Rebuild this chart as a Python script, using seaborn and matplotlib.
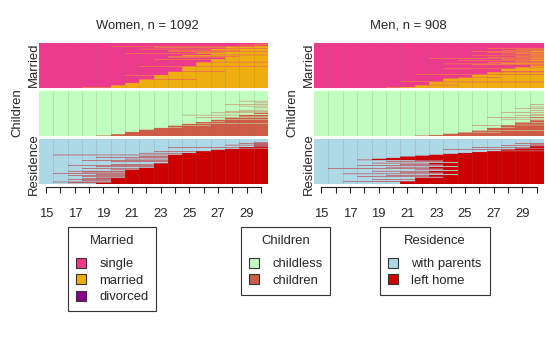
import numpy as np
import matplotlib
matplotlib.use("Agg")
import matplotlib.pyplot as plt
from matplotlib.colors import LinearSegmentedColormap
from matplotlib.patches import Patch
import seaborn as sns

sns.set_style("white")
plt.rcParams["font.family"] = ["Liberation Sans", "DejaVu Sans"]

ages = [15, 16, 17, 18, 19, 20, 21, 22, 23, 24, 25, 26, 27, 28, 29, 30]
age_labels = ["15", "", "17", "", "19", "", "21", "", "23", "", "25", "", "27", "", "29", ""]

channels = ["Married", "Children", "Residence"]
mar_states = ["single", "married", "divorced"]
mar_colors = ["#EE3A8C", "#EEAD0E", "#8B008B"]
chi_states = ["childless", "children"]
chi_colors = ["#C1FFC1", "#CD5B45"]
res_states = ["with parents", "left home"]
res_colors = ["#ADD8E6", "#CD0000"]

women_n = 1092
men_n = 908

# blocks of sequences from bottom to top: share of sample (%) and age at the event (31 = not before 31)
women_mar_pct = [1, 5, 5, 8, 1, 8, 1, 7, 1, 10,
                 1, 1, 8, 1, 5, 1, 4, 2,
                 1, 2, 1, 2, 1, 2, 1, 1, 2, 1, 2, 1, 1, 2, 1, 1, 1,
                 2, 1, 1, 1, 2]
women_mar_age = [18, 20, 21, 22, 26, 23, 21, 24, 28, 25,
                 22, 31, 26, 31, 27, 23, 28, 24,
                 29, 25, 31, 27, 21, 26, 28, 31, 24, 29, 27, 22, 31, 28, 23, 30, 20,
                 31, 29, 31, 30, 31]

women_chi_pct = [1, 3, 5, 5, 4, 1, 4, 1, 3, 1, 3, 1, 4,
                 1, 3, 1, 2, 3, 1, 2, 2, 1, 2, 1, 2, 1, 2,
                 2, 1, 3, 1, 3, 1, 2, 1, 3, 1, 2,
                 20]
women_chi_age = [19, 20, 21, 22, 23, 25, 24, 27, 25, 31, 26, 28, 27,
                 31, 28, 26, 31, 29, 25, 31, 30, 27, 31, 28, 31, 29, 31,
                 31, 30, 31, 29, 31, 28, 31, 30, 31, 29, 31,
                 31]

women_res_pct = [2, 1, 1, 1, 2, 1, 1, 1, 2, 1, 1,
                 2, 1, 1, 1, 2, 1, 1, 1, 2, 1, 1, 1, 2, 1,
                 2, 1, 1,
                 2, 1, 2, 1, 1, 1, 2,
                 3, 1, 2, 1, 2, 1, 2, 1, 2, 1, 2, 1,
                 3, 1, 3, 1, 3,
                 2, 1, 2, 1, 1, 2, 1, 1, 1, 1,
                 1, 1, 1, 8]
women_res_age = [19, 17, 20, 16, 20, 18, 20, 17, 20, 18, 19,
                 21, 18, 21, 17, 21, 19, 21, 16, 21, 18, 21, 17, 21, 20,
                 22, 18, 22,
                 23, 19, 23, 17, 23, 20, 23,
                 24, 20, 24, 18, 24, 21, 24, 19, 24, 22, 24, 16,
                 25, 22, 26, 23, 27,
                 28, 31, 29, 24, 31, 30, 31, 28, 31, 30,
                 29, 31, 30, 31]

men_mar_pct = [1, 1, 4, 1, 6, 1, 1, 6, 2, 1, 5, 1, 1, 4, 2, 5, 1, 3, 1, 3,
               1, 1, 1, 1, 1, 1, 1, 1, 1, 1, 1, 1, 1, 1, 1, 1, 1, 1, 1, 1,
               1, 1, 1, 1, 1, 1, 1, 1, 1, 1, 1, 1, 1, 1, 1, 1, 1, 1, 1,
               11]
men_mar_age = [20, 21, 22, 25, 23, 31, 21, 24, 25, 28, 26, 22, 31, 27, 31, 28, 24, 29, 31, 30,
               31, 26, 31, 24, 28, 31, 27, 31, 29, 31, 25, 30, 31, 28, 31, 23, 30, 31, 27, 31,
               29, 26, 31, 30, 31, 28, 29, 31, 27, 31, 30, 26, 31, 28, 31, 29, 31, 27, 31,
               31]

men_chi_pct = [1, 1, 3, 3, 1, 3, 1, 5, 1, 4, 1, 1, 5, 1, 4,
               2, 1, 2, 1, 1, 3, 1, 2, 1, 3, 1, 3, 1, 3, 1, 3, 1, 2,
               3, 1, 29]
men_chi_age = [22, 23, 24, 25, 28, 26, 31, 27, 29, 28, 26, 31, 29, 31, 30,
               31, 28, 31, 30, 27, 31, 29, 31, 30, 31, 28, 31, 30, 31, 29, 31, 30, 31,
               31, 30, 31]

men_res_pct = [5, 1, 4, 1, 3,
               2, 1, 2, 1, 2, 1, 2, 1, 2, 1, 2, 1, 2, 1, 2, 1, 2, 1, 2, 1, 2, 1, 2, 1, 2, 1,
               1, 2, 2,
               3, 2, 2,
               2, 2, 2, 2,
               1, 2, 1, 2, 1, 1, 3, 1, 1, 2, 1, 1,
               10]
men_res_age = [21, 17, 22, 19, 22,
               24, 18, 23, 20, 25, 17, 24, 21, 23, 19, 25, 22, 24, 16, 23, 20, 25, 18, 24, 21, 23, 19, 25, 20, 24, 22,
               18, 19, 20,
               21, 22, 23,
               24, 25, 26, 27,
               31, 28, 24, 29, 31, 26, 30, 31, 28, 31, 30, 29,
               31]


def seq_matrix(pct, event_age, nbins=45):
    # 9 sequences per percent, state 1 from the event age on;
    # sequences are pooled in nbins horizontal bands so thin lines mix like in an index plot
    rows = np.repeat(np.array(event_age), np.array(pct) * 9)
    state = (np.array(ages)[None, :] >= rows[:, None]).astype(float)
    return state.reshape(nbins, -1, len(ages)).mean(axis=1)


panels = [
    ("Women, n = %d" % women_n, [(women_mar_pct, women_mar_age), (women_chi_pct, women_chi_age), (women_res_pct, women_res_age)]),
    ("Men, n = %d" % men_n, [(men_mar_pct, men_mar_age), (men_chi_pct, men_chi_age), (men_res_pct, men_res_age)]),
]
cmaps = [LinearSegmentedColormap.from_list("mar", mar_colors[:2]),
         LinearSegmentedColormap.from_list("chi", chi_colors),
         LinearSegmentedColormap.from_list("res", res_colors)]

fig = plt.figure(figsize=(5.5, 3.5), dpi=100)
W, H = 550.0, 350.0
col_x = [(39, 229), (314, 230)]
row_y = [(43, 45), (91, 45), (139, 45)]
title_x = [147, 408]
fs = 9.4

for p, (title, data) in enumerate(panels):
    x0, w = col_x[p]
    for c in range(3):
        y0, h = row_y[c]
        ax = fig.add_axes([x0 / W, 1 - (y0 + h) / H, w / W, h / H])
        mat = seq_matrix(*data[c])
        sns.heatmap(mat, ax=ax, cmap=cmaps[c], vmin=0, vmax=1, cbar=False,
                    xticklabels=False, yticklabels=False)
        ax.invert_yaxis()
        for k in range(1, 16):
            ax.axvline(k, color="#777777", alpha=0.2, lw=0.7)
        if c == 2:
            ax.spines["bottom"].set_visible(True)
            ax.spines["bottom"].set_color("#222222")
            ax.spines["bottom"].set_linewidth(0.8)
            ax.spines["bottom"].set_bounds(0.5, 15.5)
            ax.spines["bottom"].set_position(("outward", 2))
            ax.set_xticks(np.arange(16) + 0.5)
            ax.set_xticklabels(age_labels, fontsize=fs, rotation=0)
            ax.tick_params(axis="x", bottom=True, length=4.5, width=0.8, color="#222222", pad=11)
        else:
            ax.set_xticks([])
        ax.set_yticks([])
        ax.set_xlabel("")
        ax.set_ylabel("")
    fig.text(title_x[p] / W, 1 - 25 / H, title, ha="center", va="center", fontsize=fs)
    lx = x0 - 5
    fig.text(lx / W, 1 - 65 / H, "Married", rotation=90, ha="center", va="center", fontsize=fs)
    fig.text((lx - 17) / W, 1 - 113 / H, "Children", rotation=90, ha="center", va="center", fontsize=fs)
    fig.text(lx / W, 1 - 164 / H, "Residence", rotation=90, ha="center", va="center", fontsize=fs)

legend_x = [68, 241, 380]
legend_sets = [(mar_states, mar_colors), (chi_states, chi_colors), (res_states, res_colors)]
for name, (states, colors), lx in zip(channels, legend_sets, legend_x):
    handles = [Patch(facecolor=col, edgecolor="#333333", linewidth=0.8) for col in colors]
    leg = fig.legend(handles, states, title=name, loc="upper left",
                     bbox_to_anchor=(lx / W, 1 - 227 / H), frameon=True, fancybox=False,
                     edgecolor="#333333", framealpha=1, handlelength=0.8, handleheight=0.8,
                     handletextpad=1.0, labelspacing=0.3, borderpad=0.6,
                     fontsize=fs, title_fontsize=fs, borderaxespad=0)
    leg.get_frame().set_linewidth(0.8)
    leg._legend_box.sep = 8

fig.savefig("out.png", dpi=100)
